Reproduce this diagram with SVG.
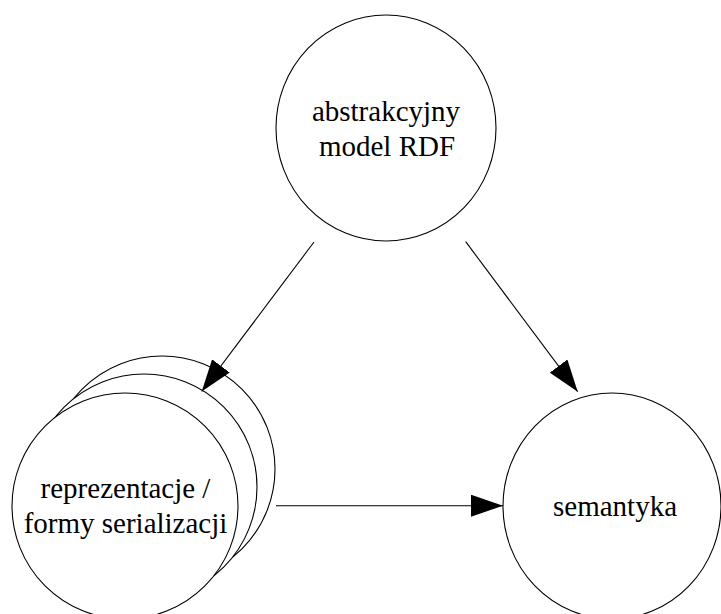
<svg xmlns="http://www.w3.org/2000/svg" width="721" height="614" viewBox="0 0 721 614">
<style>
.n{fill:#fff;stroke:#000;stroke-width:1.1}
.t{font-family:'Liberation Serif',serif;font-size:29px;fill:#000;text-anchor:middle}
.e{stroke:#000;stroke-width:1.1;fill:none}
</style>
<defs>
<marker id="ah" markerWidth="32" markerHeight="22" refX="32" refY="11" orient="auto" markerUnits="userSpaceOnUse">
<path d="M0,0 L32,11 L0,22 Z" fill="#000"/>
</marker>
</defs>
<rect width="721" height="614" fill="#fff"/>
<g id="node-model">
<ellipse class="n" cx="386" cy="128" rx="110" ry="113"/>
<text class="t" font-family="Liberation Serif, serif" x="386" y="121">abstrakcyjny</text>
<text class="t" font-family="Liberation Serif, serif" x="387" y="156">model RDF</text>
</g>
<g id="node-representations">
<circle class="n" cx="162" cy="469" r="113"/>
<circle class="n" cx="144" cy="487" r="113"/>
<circle class="n" cx="125" cy="506" r="113"/>
<text class="t" font-family="Liberation Serif, serif" x="125.5" y="498">reprezentacje /</text>
<text class="t" font-family="Liberation Serif, serif" x="125.5" y="533">formy serializacji</text>
</g>
<g id="node-semantics">
<ellipse class="n" cx="612" cy="506" rx="109" ry="113"/>
<text class="t" font-family="Liberation Serif, serif" x="615" y="516">semantyka</text>
</g>
<g id="connectors">
<line class="e" x1="314" y1="242" x2="201.7" y2="391.5" marker-end="url(#ah)"/>
<line class="e" x1="465.7" y1="241.7" x2="577.7" y2="391.7" marker-end="url(#ah)"/>
<line class="e" x1="276" y1="505.7" x2="503" y2="505.7" marker-end="url(#ah)"/>
</g>
</svg>
